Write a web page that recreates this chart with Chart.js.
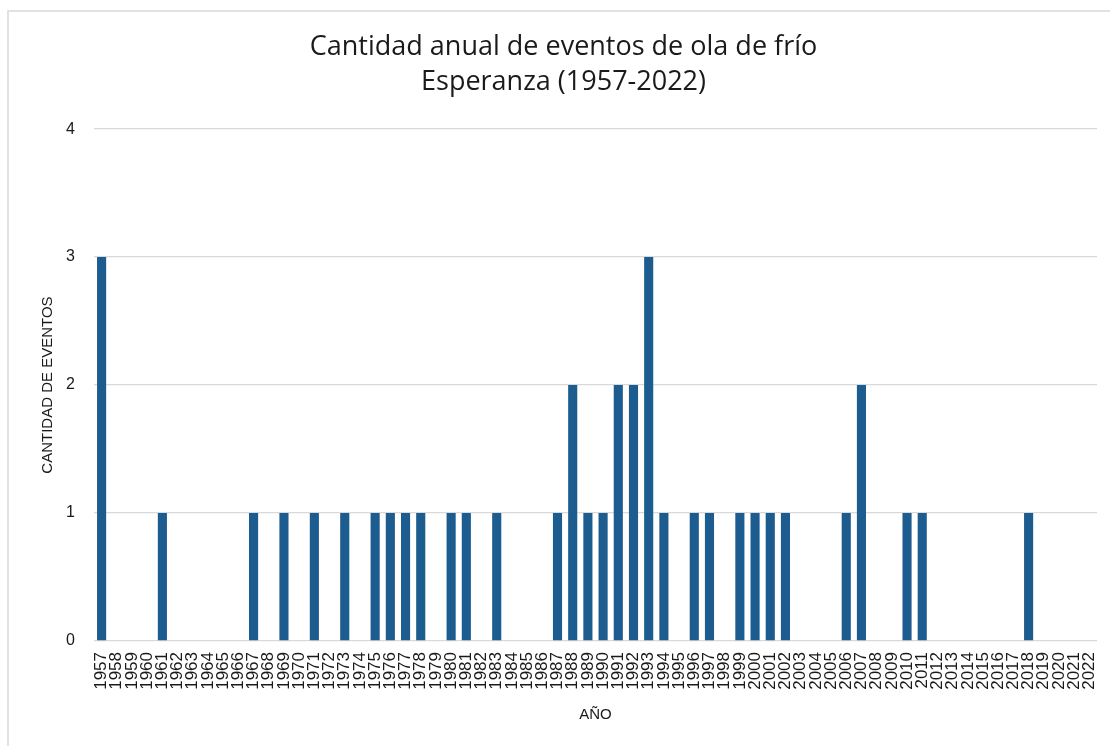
<!DOCTYPE html>
<html>
<head>
<meta charset="utf-8">
<script src="https://cdn.jsdelivr.net/npm/chart.js@4"></script>
<style>
  html, body { margin: 0; padding: 0; background: #ffffff; }
  #wrap { position: relative; width: 1110px; height: 746px; }
</style>
</head>
<body>
<div id="wrap"><canvas id="c" width="1110" height="746"></canvas></div>
<script>
const years = [];
for (let y = 1957; y <= 2022; y++) years.push(String(y));

const ones = [1961, 1967, 1969, 1971, 1973, 1975, 1976, 1977, 1978, 1980, 1981, 1983,
  1987, 1989, 1990, 1994, 1996, 1997, 1999, 2000, 2001, 2002, 2006, 2010, 2011, 2018];
const twos = [1988, 1991, 1992, 2007];
const threes = [1957, 1993];

const eventos = years.map(y => {
  const n = Number(y);
  if (threes.includes(n)) return 3;
  if (twos.includes(n)) return 2;
  if (ones.includes(n)) return 1;
  return 0;
});

const titleLines = ['Cantidad anual de eventos de ola de frío', 'Esperanza (1957-2022)'];
const yTitle = 'CANTIDAD DE EVENTOS';
const xTitle = 'AÑO';

const frame = {
  id: 'frame',
  beforeDraw(chart) {
    const ctx = chart.ctx;
    ctx.save();
    ctx.fillStyle = '#ffffff';
    ctx.fillRect(0, 0, chart.width, chart.height);
    ctx.strokeStyle = '#d9d9d9';
    ctx.lineWidth = 1.5;
    ctx.beginPath();
    ctx.moveTo(8, chart.height + 5);
    ctx.lineTo(8, 11);
    ctx.lineTo(chart.width + 5, 11);
    ctx.stroke();
    ctx.restore();
  }
};

new Chart(document.getElementById('c'), {
  type: 'bar',
  data: {
    labels: years,
    datasets: [{
      data: eventos,
      backgroundColor: '#1d5c8f',
      borderWidth: 0,
      barPercentage: 1,
      categoryPercentage: 0.6
    }]
  },
  options: {
    responsive: false,
    animation: false,
    devicePixelRatio: 1,
    layout: { padding: { left: 30, right: 13, top: 0, bottom: 0 } },
    plugins: {
      legend: { display: false },
      tooltip: { enabled: false },
      title: {
        display: true,
        text: titleLines,
        color: '#1a1a1a',
        font: { family: 'Open Sans', size: 27, weight: '400', lineHeight: 1.28 },
        padding: { top: 30, bottom: 30 }
      }
    },
    scales: {
      x: {
        grid: { display: false, drawTicks: false },
        border: { display: false },
        ticks: {
          autoSkip: false,
          maxRotation: 90,
          minRotation: 90,
          padding: 11,
          color: '#1a1a1a',
          font: { family: 'Liberation Sans', size: 17 }
        },
        title: {
          display: true,
          text: xTitle,
          color: '#1a1a1a',
          font: { family: 'Liberation Sans', size: 15 },
          padding: { top: 4, bottom: 22 }
        },
        afterFit(scale) {
          scale.height = 105;
          scale.paddingLeft = 0;
          scale.paddingRight = 0;
        }
      },
      y: {
        min: 0,
        max: 4,
        grid: { color: '#d9d9d9', lineWidth: 1.3, drawTicks: false },
        border: { display: false },
        ticks: {
          stepSize: 1,
          padding: 19,
          color: '#1a1a1a',
          font: { family: 'Liberation Sans', size: 16 }
        },
        title: {
          display: true,
          text: yTitle,
          color: '#1a1a1a',
          font: { family: 'Liberation Sans', size: 15 },
          padding: { top: 9, bottom: 0 }
        },
        afterFit(scale) { scale.width = 64; }
      }
    }
  },
  plugins: [frame]
});
</script>
</body>
</html>
